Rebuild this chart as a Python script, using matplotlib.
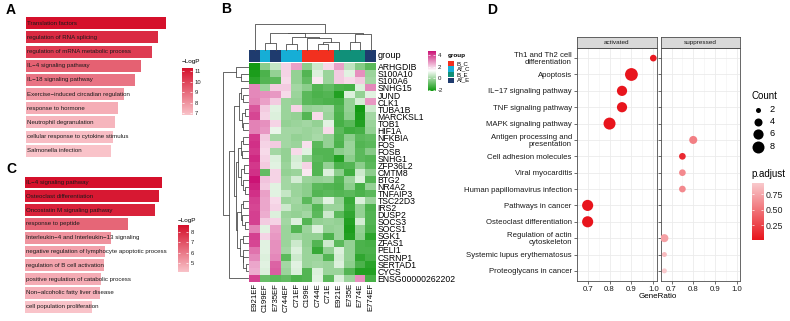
import numpy as np
import matplotlib
matplotlib.use('Agg')
import matplotlib.pyplot as plt
from matplotlib.colors import LinearSegmentedColormap, ListedColormap, Normalize

plt.rcParams['font.family'] = ['Liberation Sans', 'DejaVu Sans']

W, H = 790, 321

# ---------------- data ----------------
# panel A
a_terms = ['Translation factors', 'regulation of RNA splicing',
           'regulation of mRNA metabolic process', 'IL\u22124 signaling pathway',
           'IL\u221218 signaling pathway', 'Exercise\u2212induced circadian regulation',
           'response to hormone', 'Neutrophil degranulation',
           'cellular response to cytokine stimulus', 'Salmonella infection']
a_logp = [11.3, 10.65, 10.2, 9.3, 8.8, 7.9, 7.4, 7.2, 7.0, 6.85]
a_ticks = [7, 8, 9, 10, 11]

# panel C
c_terms = ['IL\u22124 signaling pathway', 'Osteoclast differentiation',
           'Oncostatin M signaling pathway', 'response to peptide',
           'Interleukin\u22124 and Interleukin\u221213 signaling',
           'negative regulation of lymphocyte apoptotic process',
           'regulation of B cell activation', 'positive regulation of catabolic process',
           'Non\u2212alcoholic fatty liver disease', 'cell population proliferation']
c_logp = [8.65, 8.45, 8.2, 6.5, 5.4, 5.05, 5.0, 4.8, 4.7, 4.2]
c_ticks = [5, 6, 7, 8]

# panel B
samples = ['E921EF', 'C199EF', 'E735EF', 'C744EF', 'C71EF', 'C199E',
           'C744E', 'C71E', 'E921E', 'E735E', 'E774E', 'E774EF']
sample_group = ['Af_E', 'Af_C', 'Af_E', 'Af_C', 'Af_C', 'B_C',
                'B_C', 'B_C', 'B_E', 'B_E', 'B_E', 'Af_E']
group_names = ['B_C', 'Af_C', 'B_E', 'Af_E']
group_colors = ['#F2301F', '#16AED6', '#109079', '#1F3B6E']
genes = ['ARHGDIB', 'S100A10', 'S100A6', 'SNHG15', 'JUND', 'CLK1', 'TUBA1B',
         'MARCKSL1', 'TOB1', 'HIF1A', 'NFKBIA', 'FOS', 'FOSB', 'SNHG1', 'ZFP36L2',
         'CMTM8', 'BTG2', 'NR4A2', 'TNFAIP3', 'TSC22D3', 'IRS2', 'DUSP2', 'SOCS3',
         'SOCS1', 'SGK1', 'ZFAS1', 'PELI1', 'CSRNP1', 'SERTAD1', 'CYCS',
         'ENSG00000262202']
expr = [
    [-2.0, -0.3, 0.5, 1.9, 2.6, -0.3, 0.6, 1.8, 2.6, 0.4, -0.4, -1.0],
    [-1.9, -1.2, -0.2, 1.9, -0.2, -1.1, 0.8, -0.1, 2.0, 0.9, 2.8, -0.1],
    [-1.7, -1.1, -1.0, 1.8, -0.2, -0.9, 1.6, -0.1, 2.0, 1.8, 2.0, 0.0],
    [2.9, -0.1, 2.0, 2.0, 0.0, -0.3, -1.1, -0.9, -1.2, -1.3, 0.8, 2.9],
    [2.9, 2.8, 2.7, 1.8, -0.1, -1.0, -1.2, -1.1, -1.8, 0.8, -0.2, 0.9],
    [3.0, 2.6, 2.0, -0.1, -0.2, -1.0, -1.1, -1.2, -1.3, -0.2, 0.7, 2.7],
    [3.6, 2.0, 0.9, -0.1, 1.9, -0.2, -0.1, 0.0, -1.1, -0.2, -2.0, 0.6],
    [3.8, 1.9, 0.8, -0.1, -0.2, -1.1, 1.8, -0.1, -1.2, -0.3, -1.9, 0.0],
    [3.0, 2.8, 1.9, -0.2, -0.1, 0.0, -0.2, 0.9, -1.3, -1.0, -1.8, -0.1],
    [3.0, 2.7, 1.0, 0.0, 0.0, -0.1, 0.0, 1.8, -1.0, -1.4, -1.3, -0.2],
    [4.0, 2.0, 0.0, 0.0, -0.2, -0.1, 0.1, -0.2, -1.1, -0.3, -1.0, -0.9],
    [4.1, 1.9, 2.0, 0.0, -0.1, 1.7, -1.0, -0.2, -1.2, -0.1, -1.1, -1.0],
    [4.0, 1.8, 0.0, -0.2, 1.8, 0.9, -1.1, -1.1, -0.3, -0.1, -1.0, -0.4],
    [4.2, 1.9, 0.8, -0.2, 0.7, -0.2, -1.0, -1.1, -1.8, -0.3, -1.0, -1.1],
    [4.0, 2.0, 0.9, -0.1, 0.8, 1.9, -1.1, -0.2, -1.2, -1.1, -0.3, -1.0],
    [4.1, -0.9, 1.9, -0.2, -0.1, 1.6, -1.1, 0.8, -0.3, -1.4, 0.6, -0.3],
    [4.5, 2.1, 1.9, 0.0, 0.7, -0.1, -0.2, -0.1, -1.1, -0.1, 0.8, -1.1],
    [4.3, 2.0, 0.9, 0.0, -0.1, -0.3, -1.0, -1.1, -1.2, -0.3, -1.3, -0.2],
    [4.1, 2.6, 0.9, 0.5, -0.1, -0.3, -1.1, -1.0, -1.1, -1.0, -1.2, -1.0],
    [3.9, 2.5, 1.8, -0.1, 0.0, -1.0, -0.1, 0.9, -0.2, -1.5, 0.8, -0.1],
    [3.8, 2.5, 1.9, 0.6, -0.1, -0.2, -1.1, -0.1, -0.1, -1.4, -0.2, -1.2],
    [3.9, 2.4, 0.8, -0.1, -0.2, 0.0, -1.0, 0.6, -1.0, -1.6, -0.2, -1.1],
    [3.9, 2.0, 1.9, 0.0, 0.8, -1.1, -0.2, -0.1, -0.2, -1.8, 0.7, -1.1],
    [3.0, 0.9, 2.6, -0.1, -1.1, -0.1, 0.8, -0.2, -0.1, -1.9, -0.2, -1.2],
    [3.9, 1.9, 2.7, -0.1, 0.0, -0.2, -0.2, -1.2, -0.1, -1.8, -0.3, -1.7],
    [3.8, 0.9, 2.8, -0.1, 0.6, -0.2, -1.1, 0.6, -1.0, -0.2, -1.2, -1.3],
    [3.2, 0.9, 2.8, 0.0, 0.8, -0.1, -1.5, -0.2, 0.8, -0.2, -1.2, -1.2],
    [2.9, 0.8, 2.9, -1.0, 0.6, -0.1, -0.1, -1.1, 0.7, -0.2, -1.6, -1.3],
    [2.5, 0.9, 3.4, 0.0, 0.9, -0.1, 0.0, -0.1, 0.8, -0.3, -1.2, -1.7],
    [2.4, 0.8, 3.5, -0.1, 0.8, -1.1, 0.8, -0.1, -0.1, -1.1, -1.8, -1.8],
    [3.9, -0.8, -1.0, -0.9, -1.2, -1.1, 0.9, -1.0, 0.8, -0.1, 2.8, -1.3],
]
expr_ticks = [4, 2, 0, -2]
# dendrograms as nested (height, left, right); leaves are column / row indices
col_tree = (1.0, 0, (0.65, (0.62, (0.25, 1, 2),
                           (0.5, (0.2, 3, 4), (0.45, 5, (0.3, (0.2, 6, 7), 8)))),
                     (0.6, (0.3, 9, 10), 11)))
row_tree = (1.0, (0.5, 0, (0.3, 1, 2)),
            (0.75, (0.55, (0.35, (0.3, 3, (0.2, 4, 5)), (0.25, (0.15, 6, 7), (0.2, 8, 9))),
                    (0.5, (0.4, (0.3, (0.2, 10, 11), (0.25, 12, 13)),
                           (0.28, (0.18, 14, 15), (0.22, 16, (0.12, 17, 18)))),
                     (0.45, (0.3, (0.2, 19, 20), (0.25, 21, (0.15, 22, 23))),
                      (0.32, (0.2, 24, 25), (0.22, 26, (0.2, 27, (0.1, 28, 29))))))),
             30))

# panel D
d_terms = ['Th1 and Th2 cell\ndifferentiation', 'Apoptosis', 'IL\u221217 signaling pathway',
           'TNF signaling pathway', 'MAPK signaling pathway',
           'Antigen processing and\npresentation', 'Cell adhesion molecules',
           'Viral myocarditis', 'Human papillomavirus infection', 'Pathways in cancer',
           'Osteoclast differentiation', 'Regulation of actin\ncytoskeleton',
           'Systemic lupus erythematosus', 'Proteoglycans in cancer']
d_facet = ['activated', 'activated', 'activated', 'activated', 'activated',
           'suppressed', 'suppressed', 'suppressed', 'suppressed', 'activated',
           'activated', 'suppressed', 'suppressed', 'suppressed']
d_ratio = [1.0, 0.9, 0.857, 0.857, 0.8, 0.8, 0.75, 0.75, 0.75, 0.7, 0.7,
           0.667, 0.667, 0.667]
d_count = [3, 9, 6, 6, 8, 4, 3, 3, 3, 7, 7, 4, 2, 2]
d_padj = [0.04, 0.02, 0.02, 0.02, 0.01, 0.55, 0.12, 0.6, 0.6, 0.01, 0.01,
          0.72, 0.85, 0.93]
count_breaks = [2, 4, 6, 8]
padj_ticks = [0.25, 0.50, 0.75]
facets = ['activated', 'suppressed']
ratio_ticks = [0.7, 0.8, 0.9, 1.0]


def px_axes(fig, x0, y0, x1, y1):
    return fig.add_axes([x0 / W, 1 - y1 / H, (x1 - x0) / W, (y1 - y0) / H])


def gradient_bar(cax, cmap, vmin, vmax, ticks, fs, labels=None):
    grad = np.linspace(vmin, vmax, 256)[:, None]
    cax.imshow(grad, aspect='auto', cmap=cmap, vmin=vmin, vmax=vmax,
               origin='lower', extent=[0, 1, vmin, vmax])
    cax.set_xticks([])
    cax.yaxis.tick_right()
    cax.set_yticks(ticks)
    cax.set_yticklabels(labels if labels else [str(t) for t in ticks])
    cax.tick_params(axis='y', direction='in', color='white', length=1.5, width=0.5,
                    left=True, right=True, labelsize=fs, pad=2, labelcolor='#222222')
    for s in cax.spines.values():
        s.set_visible(False)


def bar_panel(fig, terms, vals, box, cbox, cmap, ticks):
    ax = px_axes(fig, *box)
    vals = np.array(vals)
    norm = Normalize(vals.min(), vals.max())
    y = np.arange(len(terms))
    ax.barh(y, vals, height=0.85, color=cmap(norm(vals)))
    for yi, t in zip(y, terms):
        ax.annotate(t, (0, yi), xytext=(0.8, 0), textcoords='offset points',
                    va='center', ha='left', fontsize=4.4, color='#1a1a1a')
    ax.set_xlim(0, vals.max())
    ax.set_ylim(len(terms) - 0.5, -0.5)
    ax.axis('off')
    cax = px_axes(fig, *cbox)
    gradient_bar(cax, cmap, vals.min(), vals.max(), ticks, 4.2)
    return ax


def draw_tree(ax, node, vertical):
    if isinstance(node, int):
        return node, 0.0
    h, left, right = node
    p1, h1 = draw_tree(ax, left, vertical)
    p2, h2 = draw_tree(ax, right, vertical)
    if vertical:
        ax.plot([p1, p1, p2, p2], [h1, h, h, h2], color='#4d4d4d', lw=0.6, clip_on=False)
    else:
        ax.plot([h1, h, h, h2], [p1, p1, p2, p2], color='#4d4d4d', lw=0.6, clip_on=False)
    return (p1 + p2) / 2, h


fig = plt.figure(figsize=(W / 100, H / 100), dpi=100)
ov = fig.add_axes([0, 0, 1, 1])
ov.set_xlim(0, W)
ov.set_ylim(H, 0)
ov.axis('off')

# ---------------- A & C ----------------
bar_cmap = LinearSegmentedColormap.from_list('bar', ['#F9C3C9', '#D5102B'])
bar_panel(fig, a_terms, a_logp, (26, 16.2, 166, 157.9), (182, 68.3, 192, 115),
          bar_cmap, a_ticks)
ov.text(181.5, 62, '\u2212LogP', fontsize=4.6, ha='left', va='center')
bar_panel(fig, c_terms, c_logp, (25.3, 175.6, 162.3, 313.6), (178, 225, 188, 271.7),
          bar_cmap, c_ticks)
ov.text(177.5, 220.5, '\u2212LogP', fontsize=4.6, ha='left', va='center')

for lab, x, y in [('A', 11, 10), ('B', 226, 9), ('C', 11, 169), ('D', 492, 10)]:
    ov.text(x, y, lab, fontsize=10, fontweight='bold', ha='center', va='center')

# ---------------- B heatmap ----------------
narrow = ['Liberation Sans Narrow', 'Liberation Sans', 'DejaVu Sans']
hm_cmap = LinearSegmentedColormap.from_list('hm', ['#0E980E', '#FFFFFF', '#C8066E'])
vmin, vmax = -2.1, 4.7
hm = px_axes(fig, 249.3, 63.3, 376, 281.7)
hm.imshow(np.array(expr), cmap=hm_cmap, vmin=vmin, vmax=vmax, aspect='auto',
          interpolation='nearest')
hm.set_xticks(range(len(samples)))
hm.set_xticklabels(samples, rotation=90, fontsize=5.6, family=narrow)
hm.yaxis.tick_right()
hm.set_yticks(range(len(genes)))
hm.set_yticklabels(genes, fontsize=6.2, family=narrow)
hm.tick_params(length=0, pad=1.2)
for s in hm.spines.values():
    s.set_visible(False)

ga = px_axes(fig, 249.3, 50, 376, 61.7)
codes = [group_names.index(g) for g in sample_group]
ga.imshow([codes], cmap=ListedColormap(group_colors), vmin=-0.5, vmax=3.5,
          aspect='auto', interpolation='nearest')
ga.set_xticks([])
ga.set_yticks([])
for s in ga.spines.values():
    s.set_visible(False)
ov.text(378, 56, 'group', fontsize=6.6, family=narrow, ha='left', va='center')

cd = px_axes(fig, 249.3, 23.5, 376, 49.5)
cd.set_xlim(-0.5, len(samples) - 0.5)
cd.set_ylim(0, 1.0)
draw_tree(cd, col_tree, True)
cd.axis('off')

rd = px_axes(fig, 223, 63.3, 248.3, 281.7)
rd.set_ylim(len(genes) - 0.5, -0.5)
rd.set_xlim(1.0, 0)
draw_tree(rd, row_tree, False)
rd.axis('off')

hcax = px_axes(fig, 428, 50.7, 435, 90.7)
gradient_bar(hcax, hm_cmap, vmin, vmax, expr_ticks, 4.4)

ov.text(447.5, 55, 'group', fontsize=4.6, fontweight='bold', ha='left', va='center')
for i, (g, col) in enumerate(zip(group_names, group_colors)):
    yy = 60.7 + i * 5.6
    ov.add_patch(plt.Rectangle((448.3, yy), 5.6, 5.3, color=col, lw=0))
    ov.text(456.5, yy + 2.7, g, fontsize=4.4, ha='left', va='center')

# ---------------- D dot plot ----------------
d_cmap = LinearSegmentedColormap.from_list('padj', ['#E8141C', '#F9CACD'])
pnorm = Normalize(min(d_padj), max(d_padj))


def dot_size(c):
    d = np.sqrt(25 + (np.asarray(c) - 2) * 19.8)
    return (d * 0.72) ** 2


panel_x = [(576.7, 656.7), (660.7, 740)]
for k, (fname, (x0, x1)) in enumerate(zip(facets, panel_x)):
    ax = px_axes(fig, x0, 48.3, x1, 280.7)
    idx = [i for i, f in enumerate(d_facet) if f == fname]
    ax.set_xlim(0.652, 1.0155)
    ax.set_ylim(len(d_terms) - 0.4, -0.6)
    ax.set_xticks(ratio_ticks)
    ax.set_xticks([0.65, 0.75, 0.85, 0.95], minor=True)
    ax.set_xticklabels(['%.1f' % t for t in ratio_ticks], fontsize=5.6)
    ax.set_yticks(range(len(d_terms)))
    if k == 0:
        ax.set_yticklabels(d_terms, fontsize=5.6, linespacing=0.95)
    else:
        ax.set_yticklabels([])
    ax.grid(True, which='major', color='#EBEBEB', lw=0.6)
    ax.grid(True, which='minor', axis='x', color='#F2F2F2', lw=0.4)
    ax.set_axisbelow(True)
    ax.tick_params(which='major', length=2, width=0.5, color='#333333', pad=1.5,
                   labelcolor='#1a1a1a')
    ax.tick_params(which='minor', length=0)
    for s in ax.spines.values():
        s.set_color('#4d4d4d')
        s.set_linewidth(0.6)
    ax.scatter([d_ratio[i] for i in idx], idx, s=dot_size([d_count[i] for i in idx]),
               c=[d_padj[i] for i in idx], cmap=d_cmap, norm=pnorm, lw=0, zorder=3)

    sa = px_axes(fig, x0, 37.3, x1, 48.3)
    sa.set_facecolor('#D9D9D9')
    sa.set_xticks([])
    sa.set_yticks([])
    for s in sa.spines.values():
        s.set_color('#4d4d4d')
        s.set_linewidth(0.6)
    sa.text(0.5, 0.5, fname, transform=sa.transAxes, fontsize=4.6, ha='center',
            va='center', color='#1a1a1a')

ov.text(658, 297, 'GeneRatio', fontsize=5.8, ha='center', va='center')

ov.text(751.5, 96, 'Count', fontsize=7, ha='left', va='center')
for i, c in enumerate(count_breaks):
    yy = [110, 122, 134, 146.5][i]
    ov.scatter([758.3], [yy], s=dot_size(c), color='black', lw=0)
    ov.text(769.5, yy, str(c), fontsize=6.6, ha='left', va='center')

ov.text(751.5, 174, 'p.adjust', fontsize=7, ha='left', va='center')
pcax = px_axes(fig, 751.7, 183.3, 763.3, 240)
gradient_bar(pcax, d_cmap, min(d_padj), max(d_padj), padj_ticks, 6.4,
             ['0.25', '0.50', '0.75'])

fig.savefig('out.png', dpi=100)
